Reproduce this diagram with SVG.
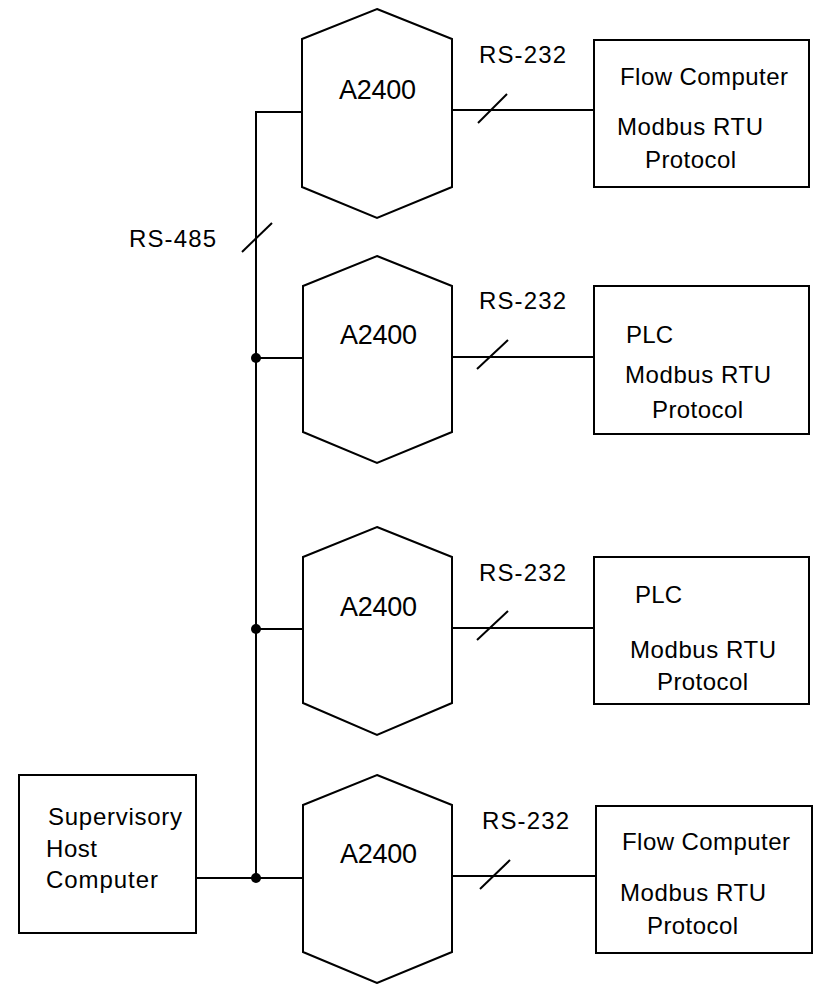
<svg xmlns="http://www.w3.org/2000/svg" width="817" height="984" viewBox="0 0 817 984">
<style>
.s{fill:none;stroke:#000;stroke-width:2}
.h{fill:#fff;stroke:#000;stroke-width:2;stroke-linejoin:miter}
.b{fill:#fff;stroke:#000;stroke-width:2}
text{font-family:"Liberation Sans",Arial,sans-serif;font-size:24px;fill:#000}
.a{font-size:27px}
.d{fill:#000}
</style>
<rect width="817" height="984" fill="#fff"/>
<g id="connectors">
<path class="s" d="M302,112H256V878"/>
<path class="s" d="M256,358H303"/>
<path class="s" d="M256,629H303"/>
<path class="s" d="M196,878H303"/>
<path class="s" d="M242,252L272,223"/>
<text x="129" y="247" textLength="87" lengthAdjust="spacing">RS-485</text>
<path class="s" d="M451,110H594"/>
<path class="s" d="M478,123L507,94"/>
<text x="479" y="63" textLength="87" lengthAdjust="spacing">RS-232</text>
<path class="s" d="M452,357H594"/>
<path class="s" d="M477,369L508,340"/>
<text x="479" y="309" textLength="87" lengthAdjust="spacing">RS-232</text>
<path class="s" d="M452,628H594"/>
<path class="s" d="M477,640L508,611"/>
<text x="479" y="581" textLength="87" lengthAdjust="spacing">RS-232</text>
<path class="s" d="M452,876H596"/>
<path class="s" d="M480,889L510,860"/>
<text x="482" y="829" textLength="87" lengthAdjust="spacing">RS-232</text>
<circle class="d" cx="256" cy="358" r="5"/>
<circle class="d" cx="256" cy="629" r="5"/>
<circle class="d" cx="256" cy="878" r="5"/>
</g>
<g id="hex1">
<polygon class="h" points="377,9 452,39 452,187 377,218 302,187 302,39"/>
<text class="a" x="339" y="99" textLength="77" lengthAdjust="spacing">A2400</text>
</g>
<g id="hex2">
<polygon class="h" points="377,256 452,286 452,432 377,463 303,432 303,286"/>
<text class="a" x="340" y="344" textLength="77" lengthAdjust="spacing">A2400</text>
</g>
<g id="hex3">
<polygon class="h" points="377,527 452,557 452,703 377,735 303,703 303,557"/>
<text class="a" x="340" y="616" textLength="77" lengthAdjust="spacing">A2400</text>
</g>
<g id="hex4">
<polygon class="h" points="377,775 452,805 452,952 377,983 303,952 303,805"/>
<text class="a" x="340" y="863" textLength="77" lengthAdjust="spacing">A2400</text>
</g>
<g id="box1">
<rect class="b" x="594" y="40" width="215" height="147"/>
<text x="620" y="85" textLength="168" lengthAdjust="spacing">Flow Computer</text>
<text x="617" y="135" textLength="146" lengthAdjust="spacing">Modbus RTU</text>
<text x="645" y="168" textLength="91" lengthAdjust="spacing">Protocol</text>
</g>
<g id="box2">
<rect class="b" x="594" y="286" width="215" height="148"/>
<text x="626" y="343" textLength="47" lengthAdjust="spacing">PLC</text>
<text x="625" y="383" textLength="146" lengthAdjust="spacing">Modbus RTU</text>
<text x="652" y="418" textLength="91" lengthAdjust="spacing">Protocol</text>
</g>
<g id="box3">
<rect class="b" x="594" y="557" width="215" height="147"/>
<text x="635" y="603" textLength="47" lengthAdjust="spacing">PLC</text>
<text x="630" y="658" textLength="146" lengthAdjust="spacing">Modbus RTU</text>
<text x="657" y="690" textLength="91" lengthAdjust="spacing">Protocol</text>
</g>
<g id="box4">
<rect class="b" x="596" y="806" width="216" height="147"/>
<text x="622" y="850" textLength="168" lengthAdjust="spacing">Flow Computer</text>
<text x="620" y="901" textLength="146" lengthAdjust="spacing">Modbus RTU</text>
<text x="647" y="934" textLength="91" lengthAdjust="spacing">Protocol</text>
</g>
<g id="host">
<rect class="b" x="19" y="775" width="177" height="158"/>
<text x="48" y="825" textLength="134" lengthAdjust="spacing">Supervisory</text>
<text x="46" y="857" textLength="51" lengthAdjust="spacing">Host</text>
<text x="46" y="888" textLength="112" lengthAdjust="spacing">Computer</text>
</g>
</svg>
